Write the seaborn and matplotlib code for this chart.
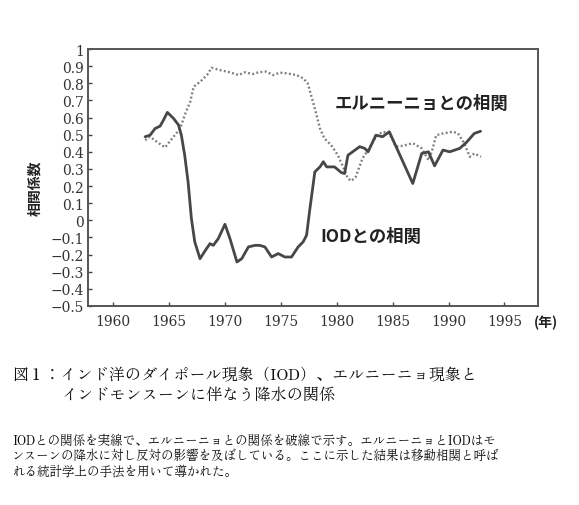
import matplotlib
matplotlib.use("Agg")
import matplotlib.pyplot as plt
import seaborn as sns
import pandas as pd

# Moving correlation of Indian monsoon rainfall with IOD (solid) and El Nino (dotted)
iod_year = [1962.86, 1963.3, 1963.75, 1964.2, 1964.5, 1964.85, 1965.4, 1965.85, 1966.1,
            1966.4, 1966.7, 1967.0, 1967.3, 1967.77, 1968.2, 1968.66, 1968.96, 1969.4,
            1970.0, 1970.45, 1971.07, 1971.5, 1972.1, 1972.7, 1973.1, 1973.57, 1974.17,
            1974.76, 1975.36, 1975.95, 1976.55, 1976.99, 1977.3, 1977.6, 1978.04, 1978.5,
            1978.8, 1979.1, 1979.8, 1980.4, 1980.7, 1981.0, 1982.05, 1982.5, 1982.8,
            1983.5, 1984.1, 1984.7, 1986.8, 1987.6, 1988.2, 1988.75, 1989.5, 1990.1,
            1991.0, 1991.6, 1992.3, 1992.86]
iod_corr = [0.488, 0.497, 0.536, 0.55, 0.585, 0.63, 0.595, 0.556, 0.497,
            0.38, 0.225, 0.01, -0.126, -0.224, -0.18, -0.136, -0.146, -0.107,
            -0.023, -0.107, -0.243, -0.224, -0.155, -0.146, -0.146, -0.155, -0.214,
            -0.194, -0.214, -0.214, -0.155, -0.126, -0.087, 0.069, 0.283, 0.312,
            0.342, 0.312, 0.312, 0.279, 0.273, 0.38, 0.43, 0.42, 0.40,
            0.497, 0.488, 0.517, 0.215, 0.39, 0.40, 0.318, 0.41, 0.40,
            0.42, 0.455, 0.507, 0.52]

enso_year = [1962.86, 1963.3, 1963.9, 1964.64, 1965.4, 1966.0, 1966.4, 1966.9, 1967.2,
             1967.8, 1968.4, 1968.8, 1969.55, 1970.45, 1971.2, 1971.8, 1972.5, 1973.0,
             1973.7, 1974.3, 1974.9, 1975.5, 1976.4, 1977.0, 1977.4, 1977.7, 1978.04,
             1978.5, 1978.9, 1979.5, 1980.1, 1980.5, 1981.0, 1981.3, 1981.7, 1982.3,
             1982.8, 1983.5, 1984.1, 1984.7, 1985.3, 1985.9, 1986.8, 1987.6, 1988.2,
             1988.5, 1988.9, 1989.5, 1990.4, 1990.85, 1991.4, 1991.9, 1992.3, 1992.9]
enso_corr = [0.468, 0.488, 0.459, 0.425, 0.488, 0.536, 0.614, 0.693, 0.78,
             0.81, 0.848, 0.89, 0.877, 0.864, 0.848, 0.864, 0.854, 0.864,
             0.868, 0.848, 0.862, 0.858, 0.848, 0.829, 0.80, 0.731, 0.653,
             0.536, 0.478, 0.439, 0.38, 0.322, 0.244, 0.23, 0.254, 0.361,
             0.41, 0.488, 0.517, 0.507, 0.43, 0.435, 0.45, 0.42, 0.351,
             0.40, 0.497, 0.507, 0.517, 0.507, 0.45, 0.371, 0.39, 0.371]

x_ticks = [1960, 1965, 1970, 1975, 1980, 1985, 1990, 1995]
y_ticks = [1.0, 0.9, 0.8, 0.7, 0.6, 0.5, 0.4, 0.3, 0.2, 0.1, 0.0,
           -0.1, -0.2, -0.3, -0.4, -0.5]
y_tick_labels = ["1", "0.9", "0.8", "0.7", "0.6", "0.5", "0.4", "0.3", "0.2", "0.1", "0",
                 "\u22120.1", "\u22120.2", "\u22120.3", "\u22120.4", "\u22120.5"]

label_enso = "エルニーニョとの相関"
label_iod = "IODとの相関"
y_label = "相関係数"
year_unit = "(年)"
caption_lines = ["図１：インド洋のダイポール現象（IOD）、エルニーニョ現象と",
                 "インドモンスーンに伴なう降水の関係"]
note_lines = ["IODとの関係を実線で、エルニーニョとの関係を破線で示す。エルニーニョとIODはモ",
              "ンスーンの降水に対し反対の影響を及ぼしている。ここに示した結果は移動相関と呼ば",
              "れる統計学上の手法を用いて導かれた。"]

sns.set_style("ticks")
# serif numerals on the axes; Japanese texts name their own family
plt.rcParams["font.family"] = ["DejaVu Serif", "Noto Sans CJK JP"]
plt.rcParams["xtick.labelsize"] = 10
plt.rcParams["ytick.labelsize"] = 10
plt.rcParams["xtick.color"] = "#444444"
plt.rcParams["ytick.color"] = "#444444"
plt.rcParams["xtick.labelcolor"] = "#333333"
plt.rcParams["ytick.labelcolor"] = "#333333"
GOTHIC = ["Noto Sans CJK JP", "DejaVu Sans"]
MINCHO = ["Zen Old Mincho", "Noto Sans CJK JP", "DejaVu Serif"]

W, H = 579, 506
fig = plt.figure(figsize=(W / 100, H / 100), dpi=100)
ax = fig.add_axes([88 / W, 1 - 307 / H, (538 - 88) / W, (307 - 50) / H])

iod_df = pd.DataFrame({"year": iod_year, "corr": iod_corr})
enso_df = pd.DataFrame({"year": enso_year, "corr": enso_corr})

sns.lineplot(data=enso_df, x="year", y="corr", ax=ax, sort=False, estimator=None,
             color="#7d7d7d", linewidth=1.7, linestyle=(0, (0.8, 1.0)))
sns.lineplot(data=iod_df, x="year", y="corr", ax=ax, sort=False, estimator=None,
             color="#474747", linewidth=2.0)

ax.set_xlim(1957.75, 1998.0)
ax.set_ylim(-0.5, 1.0)
ax.tick_params(axis="both", direction="in", length=3, width=1)
ax.tick_params(axis="x", pad=6)
ax.tick_params(axis="y", pad=3)
ax.set_xticks(x_ticks)
ax.set_xticklabels([str(v) for v in x_ticks])
ax.set_yticks(y_ticks)
ax.set_yticklabels(y_tick_labels)
ax.set_xlabel("")
ax.set_ylabel("")
for side in ["left", "bottom", "right", "top"]:
    ax.spines[side].set_visible(True)
    ax.spines[side].set_color("#555555")
    ax.spines[side].set_linewidth(1.4)

def px(x, y):
    return x / W, 1 - y / H

fig.text(*px(335, 104), label_enso, family=GOTHIC, fontsize=12.5, fontweight="bold",
         color="#222222", ha="left", va="center")
fig.text(*px(320, 237), label_iod, family=GOTHIC, fontsize=12.5, fontweight="bold",
         color="#222222", ha="left", va="center")
fig.text(*px(35, 188), y_label, family=GOTHIC, fontsize=10, fontweight="bold",
         color="#222222", ha="center", va="center", rotation=90)
fig.text(*px(546, 323), year_unit, family=GOTHIC, fontsize=10, fontweight="bold",
         color="#222222", ha="center", va="center")

fig.text(*px(12, 376), caption_lines[0], family=MINCHO, fontsize=11.6, color="#111111",
         ha="left", va="center")
fig.text(*px(62, 395), caption_lines[1], family=MINCHO, fontsize=11.6, color="#111111",
         ha="left", va="center")
for i, line in enumerate(note_lines):
    fig.text(*px(12, 441 + 15.5 * i), line, family=MINCHO, fontsize=9.0, color="#111111",
             ha="left", va="center")

fig.savefig("out.png", dpi=100)
